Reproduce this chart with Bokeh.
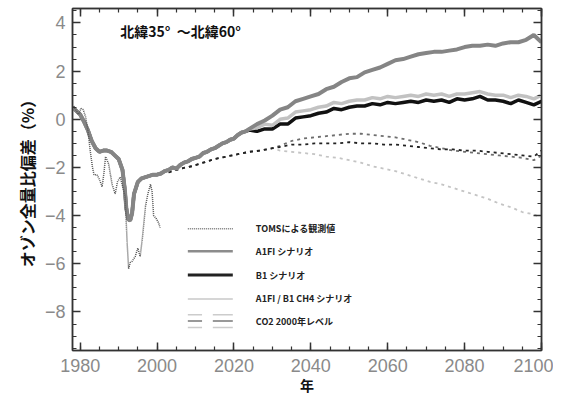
from bokeh.plotting import figure
from bokeh.models import FixedTicker, LinearAxis, Label, CustomJSTickFormatter
from bokeh.core.properties import value
from bokeh.embed import file_html
from bokeh.resources import INLINE

# ---------------- data ----------------
# TOMS observations
toms_years = [1978.3, 1979.0, 1979.6, 1980.2, 1980.8, 1981.4, 1982.0, 1982.6, 1983.2, 1983.6,
              1984.4, 1985.0, 1985.7, 1986.2, 1986.6, 1987.4, 1988.3, 1989.1, 1989.7, 1990.4,
              1990.9, 1991.7, 1992.2, 1992.6, 1993.0, 1993.5, 1994.3, 1995.0, 1995.6, 1996.2,
              1997.0, 1997.6, 1998.3, 1998.7, 1999.1, 1999.7, 2000.4, 2000.8]
toms_vals = [0.55, 0.35, 0.2, 0.45, 0.4, 0.1, -0.45, -1.3, -2.0, -2.3,
             -2.3, -2.5, -2.8, -2.2, -1.55, -1.85, -2.7, -3.1, -2.6, -2.4,
             -2.7, -3.2, -5.1, -6.2, -5.95, -5.9, -5.7, -5.35, -5.7, -4.9,
             -3.6, -3.1, -2.7, -3.0, -4.0, -4.1, -4.3, -4.5]

# model runs: common part (all scenarios identical)
common_years = [1978, 1979, 1980, 1981, 1982, 1983, 1984, 1985, 1986, 1987, 1988, 1989,
                1990, 1991, 1991.6, 1992, 1992.5, 1993, 1993.5, 1994, 1995, 1996, 1997, 1998,
                1999, 2000, 2001, 2002, 2003, 2004, 2005, 2006, 2007, 2008, 2009, 2010, 2011,
                2012, 2013, 2014, 2015, 2016, 2017, 2018, 2019, 2020, 2021, 2022, 2023]
common_vals = [0.5, 0.35, 0.2, -0.1, -0.45, -0.9, -1.2, -1.35, -1.3, -1.3, -1.35, -1.5,
               -1.65, -2.1, -2.9, -3.7, -4.15, -4.2, -3.9, -3.1, -2.6, -2.45, -2.4, -2.35,
               -2.3, -2.3, -2.25, -2.15, -2.1, -2.0, -2.05, -1.9, -1.8, -1.75, -1.65, -1.6, -1.55,
               -1.4, -1.35, -1.25, -1.2, -1.1, -1.0, -0.95, -0.85, -0.8, -0.65, -0.55, -0.5]

future_years = [2024, 2026, 2028, 2030, 2032, 2034, 2036, 2038, 2040, 2042, 2044, 2046, 2048,
                2050, 2052, 2054, 2056, 2058, 2060, 2062, 2064, 2066, 2068, 2070, 2072, 2074,
                2076, 2078, 2080, 2082, 2084, 2086, 2088, 2090, 2092, 2094, 2096, 2098, 2100]
a1fi_future = [-0.4, -0.2, -0.05, 0.15, 0.4, 0.5, 0.75, 0.85, 0.95, 1.05, 1.25, 1.35, 1.55,
               1.7, 1.75, 1.95, 2.05, 2.15, 2.3, 2.45, 2.5, 2.6, 2.7, 2.75, 2.8, 2.8,
               2.85, 2.9, 3.0, 3.05, 3.05, 3.1, 3.05, 3.15, 3.2, 3.2, 3.3, 3.5, 3.2]
b1_future = [-0.45, -0.5, -0.4, -0.4, -0.2, -0.2, 0.05, 0.1, 0.15, 0.25, 0.3, 0.45, 0.4,
             0.5, 0.55, 0.55, 0.65, 0.6, 0.7, 0.65, 0.7, 0.75, 0.7, 0.8, 0.75, 0.8,
             0.7, 0.85, 0.8, 0.85, 0.95, 0.8, 0.8, 0.75, 0.65, 0.8, 0.7, 0.6, 0.75]
ch4_future = [-0.4, -0.35, -0.2, -0.25, 0.0, 0.05, 0.3, 0.35, 0.4, 0.5, 0.55, 0.7, 0.65,
              0.75, 0.8, 0.8, 0.9, 0.85, 0.95, 0.9, 0.95, 1.0, 0.95, 1.05, 1.0, 1.05,
              0.95, 1.05, 1.05, 1.1, 1.15, 1.05, 1.0, 1.0, 0.9, 1.0, 0.95, 0.85, 1.0]

# CO2 fixed at 2000 level
co2_common_years = [2003, 2006, 2009, 2012, 2015, 2018, 2021, 2024, 2027, 2030]
co2_common_vals = [-2.2, -2.05, -1.95, -1.8, -1.65, -1.55, -1.45, -1.35, -1.3, -1.2]
co2_years = [2032, 2035, 2038, 2041, 2044, 2047, 2050, 2053, 2056, 2059, 2062, 2065, 2068,
             2071, 2074, 2077, 2080, 2083, 2086, 2089, 2092, 2095, 2098, 2100]
co2_a1fi = [-1.1, -0.9, -0.8, -0.75, -0.7, -0.65, -0.6, -0.6, -0.65, -0.7, -0.75, -0.85, -0.95,
            -1.1, -1.2, -1.3, -1.35, -1.4, -1.45, -1.5, -1.55, -1.6, -1.7, -1.5]
co2_b1 = [-1.15, -1.05, -1.05, -1.0, -1.0, -1.0, -0.95, -1.0, -1.0, -1.05, -1.05, -1.1, -1.15,
          -1.2, -1.25, -1.25, -1.3, -1.3, -1.35, -1.4, -1.45, -1.5, -1.55, -1.3]
co2_ch4 = [-1.3, -1.35, -1.4, -1.45, -1.55, -1.6, -1.7, -1.8, -1.95, -2.05, -2.15, -2.3, -2.45,
           -2.6, -2.7, -2.85, -3.0, -3.15, -3.3, -3.5, -3.65, -3.85, -3.95, -4.1]

x_major = [1980, 2000, 2020, 2040, 2060, 2080, 2100]
y_major = [-8, -6, -4, -2, 0, 2, 4]
y_labels = ["−8", "−6", "−4", "−2", "0", "2", "4"]

legend_labels = ["TOMSによる観測値", "A1FI シナリオ", "B1 シナリオ", "A1FI / B1 CH4 シナリオ", "CO2 2000年レベル"]
title_text = "北緯35°\u00a0\u00a0～北緯60°"
x_title = "年"
y_title = "オゾン全量比偏差（%）"

# ---------------- figure ----------------
JP = "Noto Sans CJK JP"
p = figure(width=553, height=397, x_range=(1978, 2100), y_range=(-9.6, 4.6),
           output_backend="svg", toolbar_location=None,
           min_border_left=72, min_border_right=12, min_border_top=8, min_border_bottom=40)
p.grid.visible = False
p.outline_line_color = "#444444"
p.outline_line_width = 1.5
p.background_fill_color = "white"
p.border_fill_color = "white"

x_minor = list(range(1975, 2101, 5))
y_minor = [v / 2 for v in range(-19, 10)]


def style_axis(ax, show_labels):
    ax.major_tick_in = 8
    ax.major_tick_out = 0
    ax.minor_tick_in = 4
    ax.minor_tick_out = 0
    ax.axis_line_color = "#333333"
    ax.axis_line_width = 1.5
    ax.major_tick_line_color = "#333333"
    ax.major_tick_line_width = 1.5
    ax.minor_tick_line_color = "#333333"
    ax.minor_tick_line_width = 1.2
    if show_labels:
        ax.major_label_text_font = "Liberation Sans"
        ax.major_label_text_font_size = "18px"
        ax.major_label_text_color = "#8a8a8a"
    else:
        ax.formatter = CustomJSTickFormatter(code="return ''")
        ax.major_label_standoff = 0


xa = p.xaxis[0]
xa.ticker = FixedTicker(ticks=x_major, minor_ticks=x_minor)
style_axis(xa, True)
xa.major_label_standoff = 8
xa.axis_label = x_title
xa.axis_label_text_font = JP
xa.axis_label_text_font_style = "bold"
xa.axis_label_text_font_size = "14px"
xa.axis_label_text_color = "#111111"
xa.axis_label_standoff = 0

ya = p.yaxis[0]
ya.ticker = FixedTicker(ticks=y_major, minor_ticks=y_minor)
style_axis(ya, True)
ya.major_label_standoff = 7
ya.major_label_overrides = {v: s for v, s in zip(y_major, y_labels)}
ya.axis_label = y_title
ya.axis_label_text_font = JP
ya.axis_label_text_font_style = "bold"
ya.axis_label_text_font_size = "16px"
ya.axis_label_text_color = "#111111"
ya.axis_label_standoff = 3

top = LinearAxis(ticker=FixedTicker(ticks=x_major, minor_ticks=x_minor))
style_axis(top, False)
p.add_layout(top, "above")
right = LinearAxis(ticker=FixedTicker(ticks=y_major, minor_ticks=y_minor))
style_axis(right, False)
p.add_layout(right, "right")

# ---------------- series ----------------
DARK_DASH = "#6e6e6e"
LIGHT_DASH = "#c4c4c4"

p.line(co2_common_years + co2_years, co2_common_vals + co2_ch4,
       line_color=LIGHT_DASH, line_width=1.8, line_dash="3 4")
p.line(co2_common_years + co2_years, co2_common_vals + co2_a1fi,
       line_color=DARK_DASH, line_width=1.8, line_dash="3 4")
p.line(co2_common_years + co2_years, co2_common_vals + co2_b1,
       line_color="#222222", line_width=1.8, line_dash="3 4")

p.line(common_years + future_years, common_vals + b1_future,
       line_color="#111111", line_width=3.5)
p.line(common_years + future_years, common_vals + ch4_future,
       line_color="#c2c2c2", line_width=3.5)
p.line(common_years + future_years, common_vals + a1fi_future,
       line_color="#858585", line_width=4)

p.line(toms_years, toms_vals, line_color="#555555", line_width=1.5, line_dash="1 1")

# ---------------- title & legend ----------------
p.add_layout(Label(x=1990.4, y=3.67, text=title_text, text_font=JP, text_font_style="bold",
                   text_font_size="14px", text_color="#111111", text_baseline="middle"))

lx0, lx1, ltx = 2008.0, 2019.7, 2025.7
row_y = [-4.54, -5.48, -6.47, -7.46, -8.38]
p.line([lx0, lx1], [row_y[0]] * 2, line_color="#777777", line_width=1.5, line_dash="1 1")
p.line([lx0, lx1], [row_y[1]] * 2, line_color="#8c8c8c", line_width=2.5)
p.line([lx0, lx1], [row_y[2]] * 2, line_color="#222222", line_width=3)
p.line([lx0, lx1], [row_y[3]] * 2, line_color="#c8c8c8", line_width=1.5)
for dy, col in [(0.26, "#cccccc"), (0.0, "#777777"), (-0.26, "#cccccc")]:
    p.segment(x0=[lx0, lx0 + 6.5], y0=[row_y[4] + dy] * 2,
              x1=[lx0 + 3.7, lx1], y1=[row_y[4] + dy] * 2,
              line_color=col, line_width=1.5)
p.text(x=[ltx] * 5, y=row_y, text=legend_labels, text_font=value(JP),
       text_font_style="bold", text_font_size="9px", text_color="#222222",
       text_baseline="middle")

open("out.html", "w").write(file_html(p, INLINE))
